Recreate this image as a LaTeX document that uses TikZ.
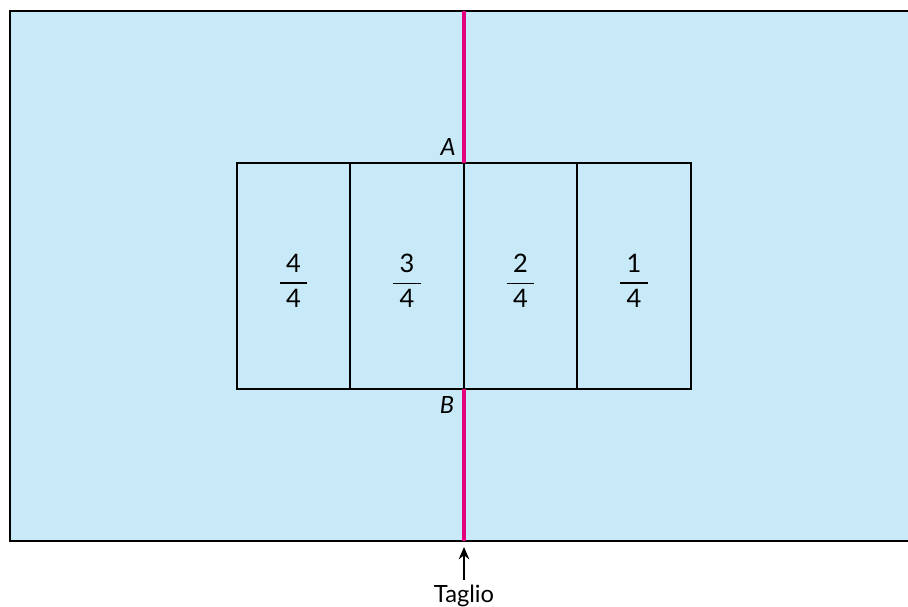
\documentclass[tikz,border=0pt]{standalone}
\usepackage{amsmath}
\usepackage{fontspec}
\setmainfont{Lato}
\usetikzlibrary{arrows.meta}
\definecolor{cielo}{HTML}{C8EAF8}
\definecolor{taglio}{HTML}{E5007E}
\newcommand{\quarti}[1]{$\genfrac{}{}{1pt}{0}{\hspace{3.5pt}\text{#1}\hspace{3.5pt}}{\text{4}}$}
\begin{document}
\begin{tikzpicture}[x=.02cm,y=-.02cm,>={Stealth[length=7pt,width=6pt]},line width=.8pt,font=\fontsize{13.5}{16}\selectfont]
 \useasboundingbox (0,0) rectangle (908,607);
 \fill[cielo] (10,11) rectangle (908,541);
 \draw[line width=1pt] (908,11)--(10,11)--(10,541)--(908,541);
 \draw (237,163) rectangle (691,389);
 \foreach \x in {350,464,577} \draw (\x,163)--(\x,389);
 \node[font=\fontsize{14.5}{17}\selectfont] (q4) at (293.5,281) {\quarti{4}};
 \node[font=\fontsize{14.5}{17}\selectfont] (q3) at (407,281) {\quarti{3}};
 \node[font=\fontsize{14.5}{17}\selectfont] (q2) at (520.5,281) {\quarti{2}};
 \node[font=\fontsize{14.5}{17}\selectfont] (q1) at (634,281) {\quarti{1}};
 \coordinate (alto) at (464,11); \coordinate (a) at (464,163);
 \coordinate (b) at (464,389); \coordinate (basso) at (464,541);
 \draw[taglio,line width=2pt] (alto)--(a); \draw[taglio,line width=2pt] (b)--(basso);
 \node (A) at (448,147) {\itshape A};
 \node (B) at (447,405) {\itshape B};
 \node[anchor=north,inner sep=0pt] (t) at (464,584) {Taglio};
 \draw[->,line width=.9pt] (t.north) ++(0,-4) coordinate (c) (c)--(464,547);
\end{tikzpicture}
\end{document}
